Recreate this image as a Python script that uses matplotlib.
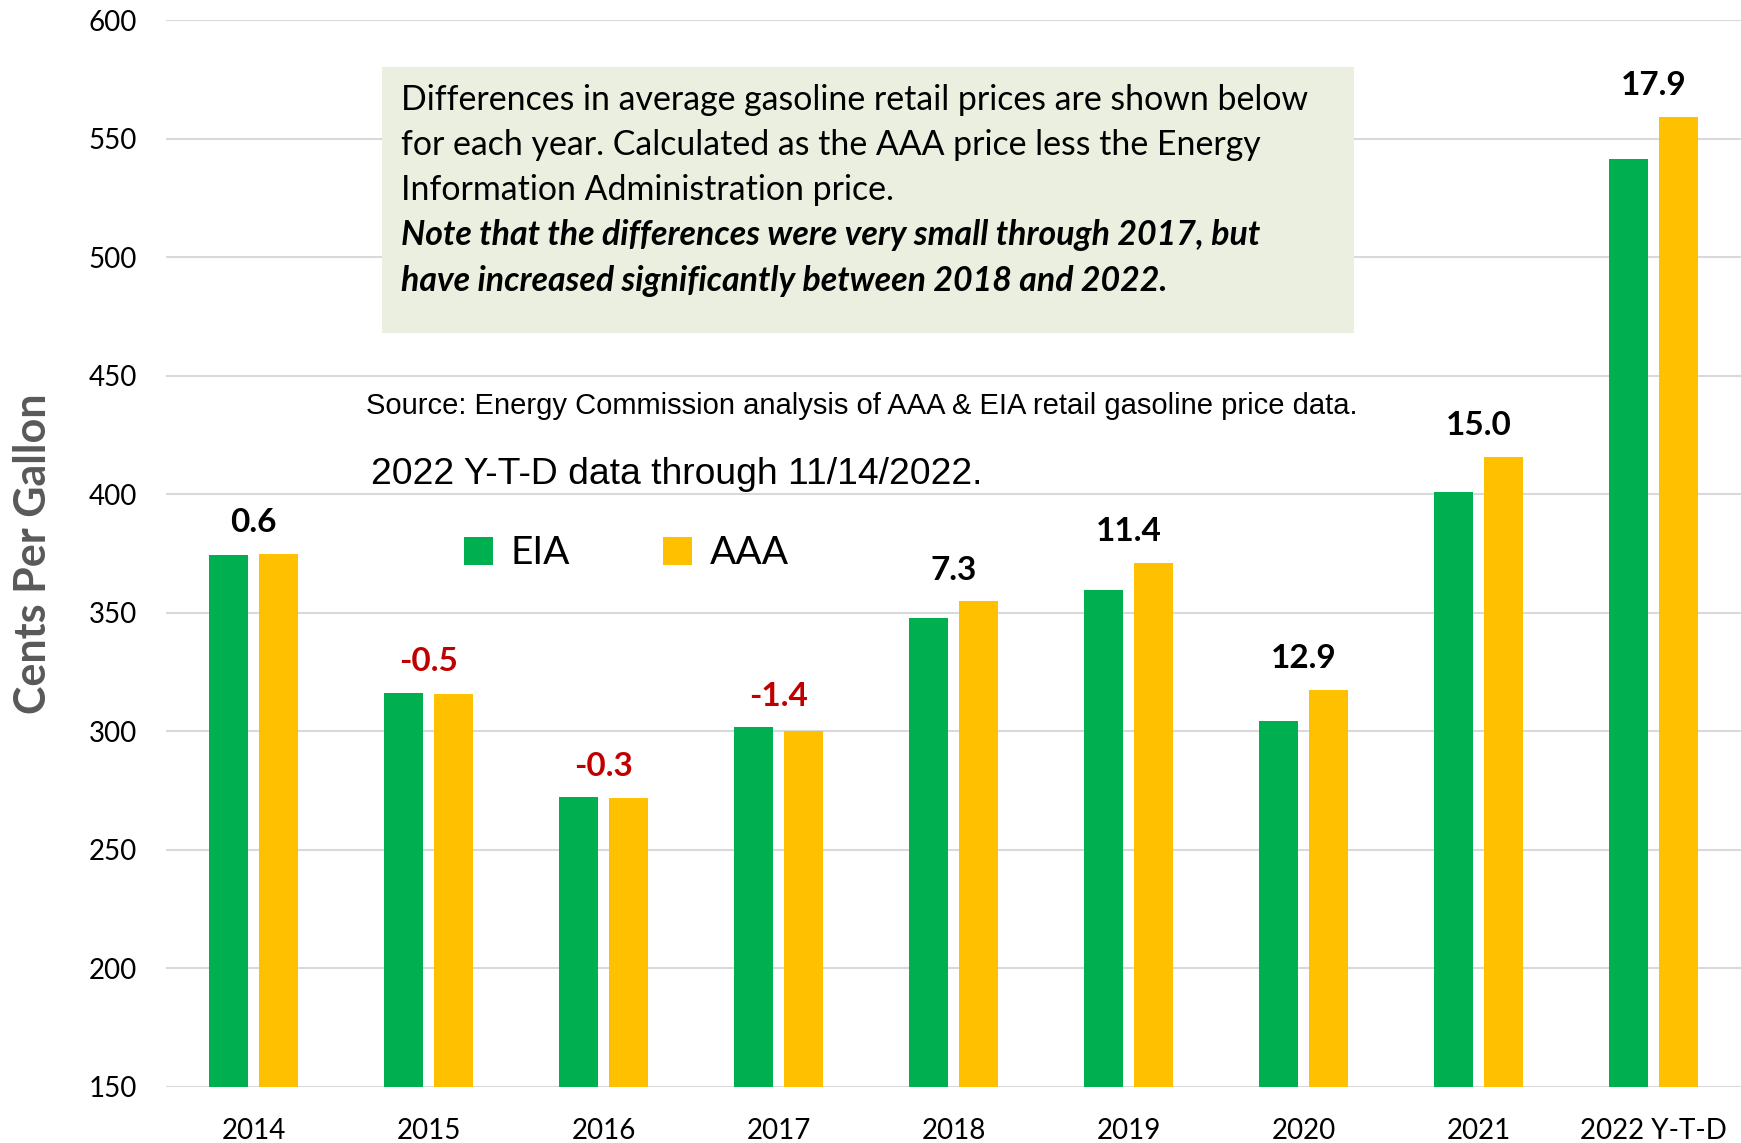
import matplotlib.pyplot as plt
import numpy as np
from matplotlib.patches import Rectangle

years = ['2014', '2015', '2016', '2017', '2018', '2019', '2020', '2021', '2022 Y-T-D']
eia = [374.2, 316.2, 272.2, 301.7, 347.6, 359.7, 304.5, 400.9, 541.4]
aaa = [374.8, 315.7, 271.9, 300.3, 354.9, 371.1, 317.4, 415.9, 559.3]
diffs = ['0.6', '-0.5', '-0.3', '-1.4', '7.3', '11.4', '12.9', '15.0', '17.9']

GREEN = '#00B050'
YELLOW = '#FFC000'
FONT = 'Lato'

fig = plt.figure(figsize=(17.41, 11.43), dpi=100)
ax = fig.add_axes([0.0955, 0.049, 0.9045, 0.9335])

x = np.arange(len(years))
w = 0.222
off = 0.143
b1 = ax.bar(x - off, eia, w, color=GREEN, zorder=3)
b2 = ax.bar(x + off, aaa, w, color=YELLOW, zorder=3)

ax.set_ylim(150, 600)
ax.set_xlim(-0.5, 8.5)
ax.set_yticks(range(150, 601, 50))
ax.grid(axis='y', color='#D9D9D9', linewidth=1.5, zorder=0)
for s in ax.spines.values():
    s.set_visible(False)
ax.tick_params(length=0, labelsize=20)
ax.tick_params(axis='x', pad=22)
ax.tick_params(axis='y', pad=21)
ax.set_xticks(x)
ax.set_xticklabels(years, fontfamily=FONT)
for t in ax.get_yticklabels():
    t.set_fontfamily(FONT)

ax.set_ylabel('Cents Per Gallon', fontsize=31, fontweight='bold', color='#595959',
              fontfamily=FONT, labelpad=26)

# difference labels
for i, d in enumerate(diffs):
    top = max(eia[i], aaa[i])
    col = '#C00000' if d.startswith('-') else 'black'
    ax.text(i, top + 7, d, ha='center', va='bottom', fontsize=24, fontweight='bold',
            color=col, fontfamily=FONT, zorder=4)

# note box
ax.add_patch(Rectangle((0.735, 468), 6.29 - 0.735, 580.3 - 468, facecolor='#EBEFDF',
                       edgecolor='none', zorder=2))
lines = ['Differences in average gasoline retail prices are shown below',
         'for each year. Calculated as the AAA price less the Energy',
         'Information Administration price.',
         'Note that the differences were very small through 2017, but',
         'have increased significantly between 2018 and 2022.']
line_y = [566.3, 547.1, 528.4, 509.3, 490.1]
for k, (txt, yy) in enumerate(zip(lines, line_y)):
    bold = k >= 3
    ax.text(0.84, yy, txt, ha='left', va='center', fontsize=24.4, fontfamily=FONT,
            fontweight='bold' if bold else 'normal',
            style='italic' if bold else 'normal', zorder=4)

ax.text(0.64, 437, 'Source: Energy Commission analysis of AAA & EIA retail gasoline price data.',
        ha='left', va='center', fontsize=21, fontfamily='Liberation Sans', zorder=4)
ax.text(0.67, 408.5, '2022 Y-T-D data through 11/14/2022.', ha='left', va='center',
        fontsize=26.8, fontfamily='Liberation Sans', zorder=4)

# legend
ax.legend([b1, b2], ['EIA', 'AAA'], loc='center left', bbox_to_anchor=(1.2, 375),
          bbox_transform=ax.transData, ncol=2, frameon=False,
          prop={'family': FONT, 'size': 28}, handlelength=0.75, handleheight=0.75,
          columnspacing=2.4, handletextpad=0.45, borderpad=0, borderaxespad=0)

fig.savefig('out.png', dpi=100)
